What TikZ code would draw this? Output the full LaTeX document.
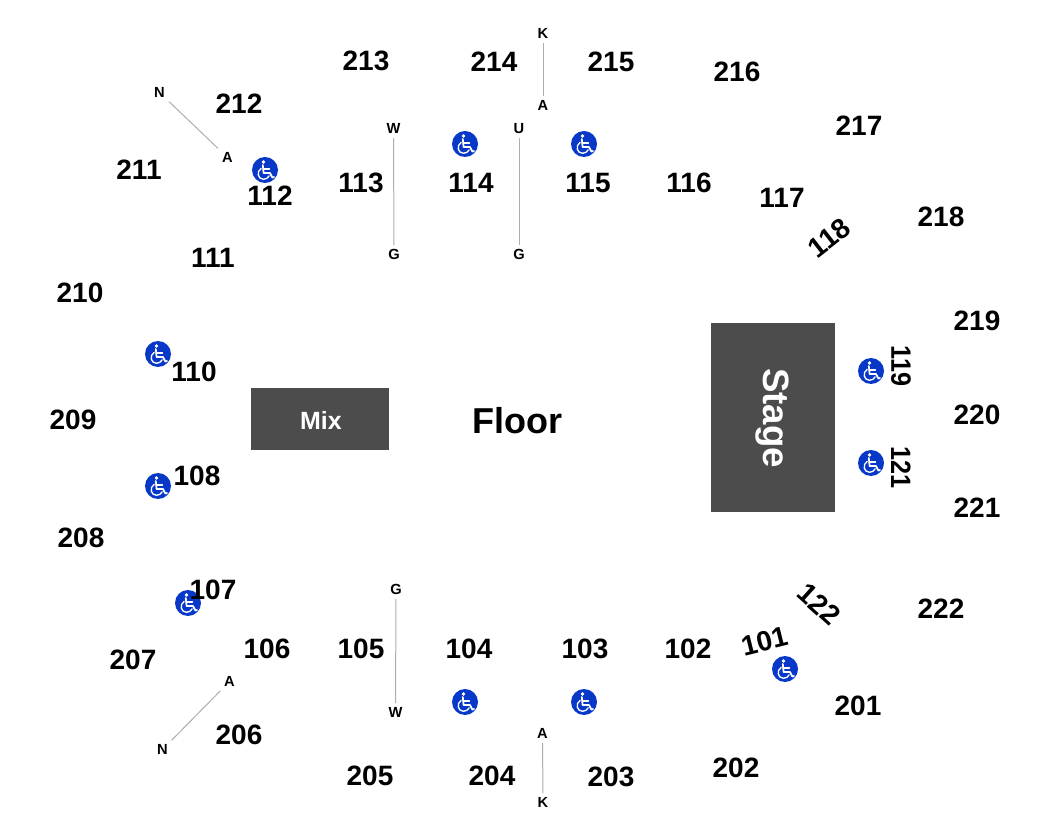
\documentclass[tikz,border=0pt]{standalone}
\usepackage{fontspec}
\setmainfont{Liberation Sans}
\definecolor{icon}{RGB}{8,56,200}
\tikzset{
  x=0.75pt,y=-0.75pt,
  sec/.style={font=\fontsize{21}{21}\selectfont\bfseries,inner sep=0pt,text=black},
  ltr/.style={font=\fontsize{11}{11}\selectfont\bfseries,inner sep=3pt,text=black},
  aisle/.style={draw=black!32,line width=0.75pt},
  block/.style={fill=black!70,draw=none,inner sep=0pt,text=white},
  wheel/.pic={
    \fill[icon] (0,0) circle (13);
    \begin{scope}[white,line cap=round,line join=round]
      \fill (-1.5,-8) circle (1.8);
      \draw[line width=1.3pt] (-2.2,-5) -- (-1.4,3) -- (5,3) -- (7.4,7.6) -- (9,7);
      \draw[line width=1pt] (-1.8,-1) -- (4.5,-1);
      \draw[line width=1pt] (-3.8,-1.6) .. controls (-9,1.5) and (-7,9.5) .. (-1.5,9.3) .. controls (1.2,9.2) and (3.4,7.8) .. (4.2,5.8);
    \end{scope}
  }
}
\begin{document}
\begin{tikzpicture}
\useasboundingbox (0,0) rectangle (1050,830);
% blocks
\node[block,minimum width=93pt,minimum height=141.75pt,anchor=north west] (stage) at (711,323) {};
\node[block,minimum width=103.5pt,minimum height=46.5pt,anchor=north west] (mix) at (251,388) {};
\node[font=\fontsize{27.5}{27.5}\selectfont\bfseries,text=white,rotate=-90,inner sep=0pt] (stagelabel) at (772,418) {Stage};
\node[font=\fontsize{18.7}{18.7}\selectfont\bfseries,text=white,inner sep=0pt] (mixlabel) at (321,420) {Mix};
\node[font=\fontsize{27}{27}\selectfont\bfseries,text=black,inner sep=0pt] (floor) at (517.5,421) {Floor};
% aisle letters
\node[ltr] (kt) at (543,33.5) {K};
\node[ltr] (at) at (543,105.5) {A};
\node[ltr] (wt) at (393.5,128.5) {W};
\node[ltr] (gt) at (394,254.5) {G};
\node[ltr] (ut) at (519,128.5) {U};
\node[ltr] (gu) at (519,254.5) {G};
\node[ltr] (nt) at (159.5,92.5) {N};
\node[ltr] (an) at (227.5,157.5) {A};
\node[ltr] (gb) at (396,589.5) {G};
\node[ltr] (wb) at (395.5,712.5) {W};
\node[ltr] (ab) at (229.5,681.5) {A};
\node[ltr] (nb) at (162.5,749.5) {N};
\node[ltr] (ak) at (542.5,733.5) {A};
\node[ltr] (kb) at (543,802.5) {K};
\draw[aisle] (kt) -- (at);
\draw[aisle] (wt) -- (gt);
\draw[aisle] (ut) -- (gu);
\draw[aisle] (nt) -- (an);
\draw[aisle] (gb) -- (wb);
\draw[aisle] (ab) -- (nb);
\draw[aisle] (ak) -- (kb);
% wheelchair icons
\pic at (265,170) {wheel};
\pic at (465,144) {wheel};
\pic at (584,144) {wheel};
\pic at (158,354) {wheel};
\pic at (158,486) {wheel};
\pic at (188,603) {wheel};
\pic at (465,702) {wheel};
\pic at (584,702) {wheel};
\pic at (785,669) {wheel};
\pic at (871,371) {wheel};
\pic at (871,463) {wheel};
% sections
\node[sec] (s213) at (366,61) {213};
\node[sec] (s214) at (494,62) {214};
\node[sec] (s215) at (611,62) {215};
\node[sec] (s216) at (737,72) {216};
\node[sec] (s217) at (859,126) {217};
\node[sec] (s218) at (941,217) {218};
\node[sec] (s219) at (977,321) {219};
\node[sec] (s220) at (977,415) {220};
\node[sec] (s221) at (977,508) {221};
\node[sec] (s222) at (941,609) {222};
\node[sec] (s201) at (858,706) {201};
\node[sec] (s202) at (736,768) {202};
\node[sec] (s203) at (611,777) {203};
\node[sec] (s204) at (492,776) {204};
\node[sec] (s205) at (370,776) {205};
\node[sec] (s206) at (239,735) {206};
\node[sec] (s207) at (133,660) {207};
\node[sec] (s208) at (81,538) {208};
\node[sec] (s209) at (73,420) {209};
\node[sec] (s210) at (80,293) {210};
\node[sec] (s211) at (139,170) {211};
\node[sec] (s212) at (239,104) {212};
\node[sec] (s112) at (270,196) {112};
\node[sec] (s111) at (213,258) {111};
\node[sec] (s113) at (361,183) {113};
\node[sec] (s114) at (471,183) {114};
\node[sec] (s115) at (588,183) {115};
\node[sec] (s116) at (689,183) {116};
\node[sec] (s117) at (782,198) {117};
\node[sec,rotate=38] (s118) at (829,238) {118};
\node[sec,rotate=-90] (s119) at (901,366) {\scalebox{0.9}[1]{119}};
\node[sec,rotate=-90] (s121) at (901,468) {\scalebox{0.9}[1]{121}};
\node[sec,rotate=-42] (s122) at (819,604) {122};
\node[sec,rotate=14] (s101) at (765,641) {101};
\node[sec] (s102) at (688,649) {102};
\node[sec] (s103) at (585,649) {103};
\node[sec] (s104) at (469,649) {104};
\node[sec] (s105) at (361,649) {105};
\node[sec] (s106) at (267,649) {106};
\node[sec] (s107) at (213,590) {107};
\node[sec] (s108) at (197,476) {108};
\node[sec] (s110) at (194,372) {110};
\end{tikzpicture}
\end{document}
